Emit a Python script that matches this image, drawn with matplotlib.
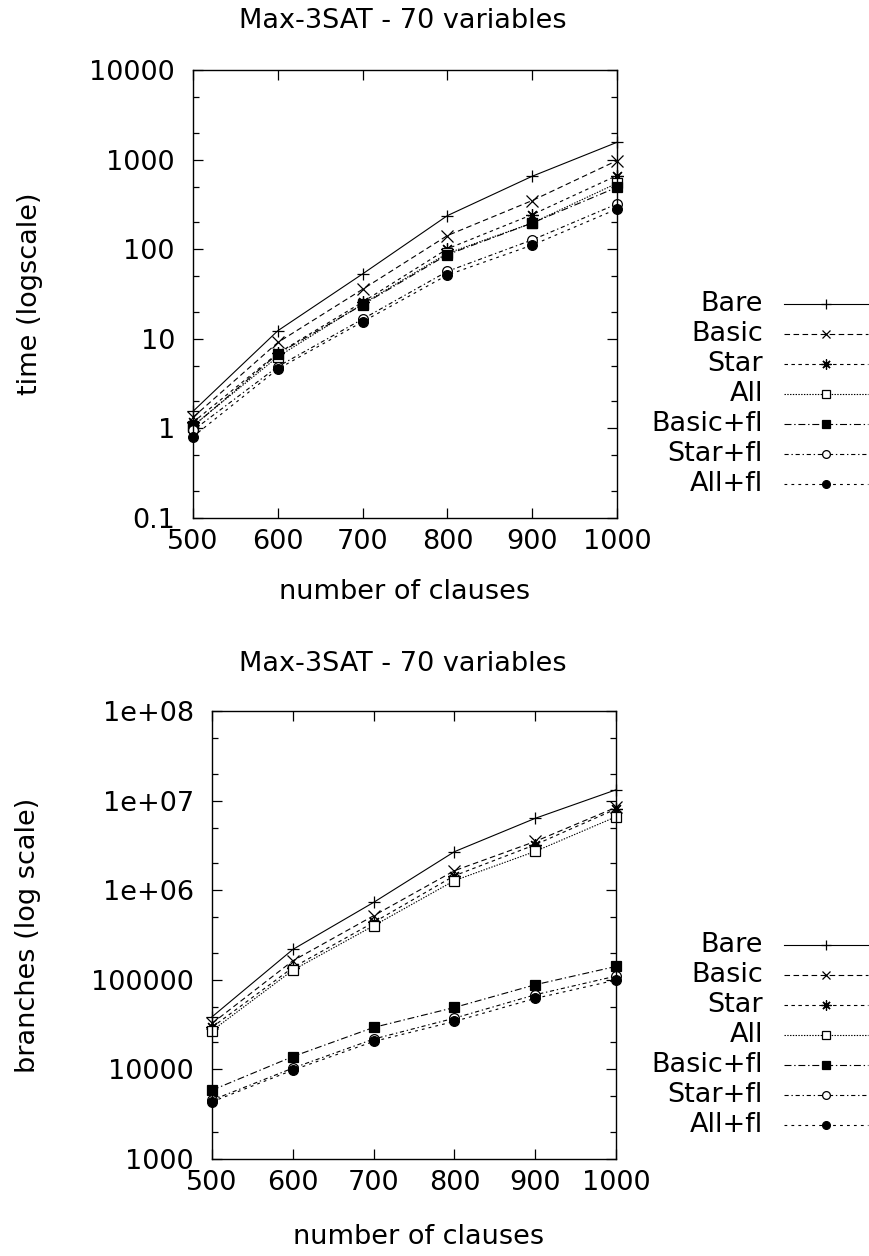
import matplotlib
matplotlib.use("Agg")
import matplotlib.pyplot as plt
from matplotlib.lines import Line2D
from matplotlib.ticker import LogLocator, NullFormatter, FixedLocator, FixedFormatter

plt.rcParams['font.family'] = ['DejaVu Sans']
plt.rcParams['lines.scale_dashes'] = False

clauses = [500, 600, 700, 800, 900, 1000]
names = ["Bare", "Basic", "Star", "All", "Basic+fl", "Star+fl", "All+fl"]

time_bare = [1.55, 12.3, 53, 237, 652, 1560]
time_basic = [1.33, 9.1, 35.7, 142, 349, 975]
time_star = [1.17, 6.9, 25.7, 101, 243, 664]
time_all = [1.07, 6.3, 24.5, 90, 196, 545]
time_basicfl = [1.05, 6.8, 24, 87, 196, 491]
time_starfl = [0.95, 4.9, 16.6, 56.6, 127, 320]
time_allfl = [0.81, 4.6, 15.5, 51.5, 111, 281]

br_bare = [38600, 218000, 731000, 2.69e6, 6.34e6, 1.32e7]
br_basic = [32600, 163000, 519000, 1.65e6, 3.5e6, 8.4e6]
br_star = [29500, 137000, 437000, 1.45e6, 3.22e6, 8.05e6]
br_all = [27000, 128000, 401000, 1.28e6, 2.71e6, 6.6e6]
br_basicfl = [5860, 13900, 29400, 49100, 88100, 141000]
br_starfl = [4540, 10330, 21800, 37300, 68100, 110000]
br_allfl = [4350, 9820, 20500, 34300, 62000, 99300]

time_series = [time_bare, time_basic, time_star, time_all, time_basicfl, time_starfl, time_allfl]
br_series = [br_bare, br_basic, br_star, br_all, br_basicfl, br_starfl, br_allfl]

time_ticks = [0.1, 1, 10, 100, 1000, 10000]
time_labels = ["0.1", "1", "10", "100", "1000", "10000"]
br_ticks = [1000, 10000, 100000, 1e6, 1e7, 1e8]
br_labels = ["1000", "10000", "100000", "1e+06", "1e+07", "1e+08"]

styles = [
    dict(ls='-', marker='+', ms=9, mfc='black'),
    dict(ls=(0, (4, 2.5)), marker='x', ms=8, mfc='black'),
    dict(ls=(0, (2.5, 2.5)), marker=(8, 2, 0), ms=9, mfc='black'),
    dict(ls=(0, (1, 1)), marker='s', ms=7, mfc='white'),
    dict(ls=(0, (5, 2, 1, 2)), marker='s', ms=7, mfc='black'),
    dict(ls=(0, (3, 2, 1, 2)), marker='o', ms=7, mfc='white'),
    dict(ls=(0, (2, 3)), marker='o', ms=7, mfc='black'),
]

W, H = 869, 1256
fig = plt.figure(figsize=(W / 100, H / 100), dpi=100)
FS = 19.5


def fx(px):
    return px / W


def fy(py):
    return 1 - py / H


def make_axes(rect_px, series, ticks, labels, ylabel, ylabel_x, title_y, xlabel_x, xlabel_y, leg_y0):
    l, t, r, b = rect_px
    ax = fig.add_axes([l / W, 1 - b / H, (r - l) / W, (b - t) / H])
    for s, st in zip(series, styles):
        ax.plot(clauses, s, color='black', lw=0.8, ls=st['ls'], marker=st['marker'],
                ms=st['ms'], mfc=st['mfc'], mec='black', mew=0.9, clip_on=False)
    ax.set_yscale('log')
    ax.set_ylim(ticks[0], ticks[-1])
    ax.set_xlim(500, 1000)
    ax.yaxis.set_major_locator(FixedLocator(ticks))
    ax.yaxis.set_major_formatter(FixedFormatter(labels))
    ax.yaxis.set_minor_locator(LogLocator(base=10, subs=(2.0, 5.0)))
    ax.yaxis.set_minor_formatter(NullFormatter())
    ax.set_xticks(clauses)
    ax.set_xticklabels([str(c) for c in clauses])
    ax.tick_params(which='both', direction='in', top=True, right=True, labelsize=FS, width=0.9)
    ax.tick_params(which='major', length=7)
    ax.tick_params(which='minor', length=4)
    ax.tick_params(axis='x', pad=8)
    ax.tick_params(axis='y', pad=13)
    for sp in ax.spines.values():
        sp.set_linewidth(1.0)
    fig.text(fx(ylabel_x), fy((t + b) / 2), ylabel, rotation=90, ha='center', va='center', fontsize=FS)
    fig.text(fx(403), fy(title_y), "Max-3SAT - 70 variables", ha='center', va='center', fontsize=FS)
    fig.text(fx(xlabel_x), fy(xlabel_y), "number of clauses", ha='center', va='center', fontsize=FS)
    # legend (gnuplot style: right-aligned labels, line sample with centred marker)
    for i, (name, st) in enumerate(zip(names, styles)):
        y = leg_y0 + 30 * i
        fig.text(fx(763), fy(y), name, ha='right', va='center', fontsize=FS)
        ln = Line2D([fx(784), fx(826), fx(868)], [fy(y)] * 3, transform=fig.transFigure,
                    color='black', lw=0.8, ls=st['ls'], marker=st['marker'], markevery=[1],
                    ms=st['ms'] * 0.8, mfc=st['mfc'], mec='black', mew=0.9)
        fig.add_artist(ln)
    return ax


make_axes((193, 70, 617, 518), time_series, time_ticks, time_labels, "time (logscale)", 30, 21, 405, 592, 304)
make_axes((212, 711, 616, 1159), br_series, br_ticks, br_labels, "branches (log scale)", 28, 664, 419, 1237, 945)

fig.savefig("out.png", dpi=100)
